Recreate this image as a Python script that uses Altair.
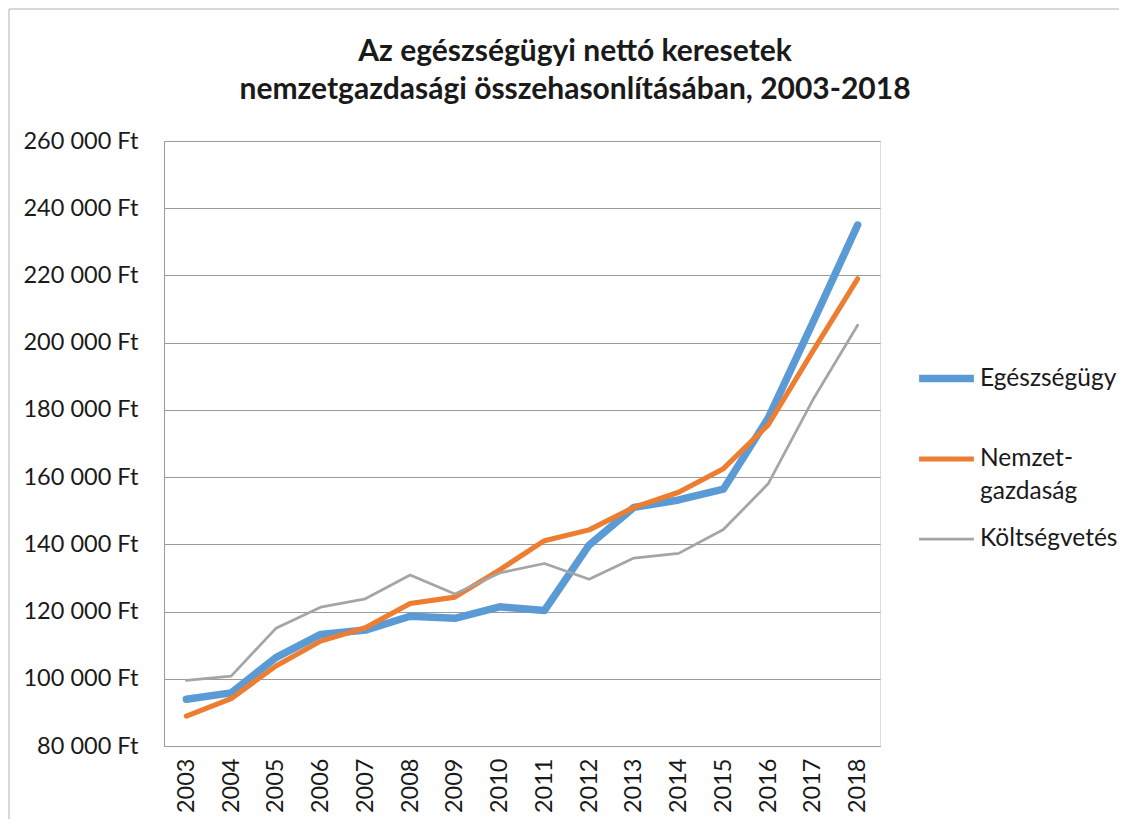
import altair as alt
import pandas as pd

years = [str(y) for y in range(2003, 2019)]
series_names = ["Egészségügy", "Nemzetgazdaság", "Költségvetés"]
egeszsegugy = [93900, 95800, 106300, 113200, 114500, 118600, 118000, 121400,
               120300, 139800, 151000, 153200, 156400, 177500, 206000, 235000]
nemzetgazdasag = [88900, 94100, 103800, 111200, 115200, 122400, 124300, 132400,
                  141100, 144300, 151000, 155500, 162500, 175500, 197500, 219000]
koltsegvetes = [99500, 100800, 115000, 121300, 123800, 130900, 125200, 131500,
                134300, 129600, 135900, 137300, 144400, 158000, 183000, 205200]
title_lines = ["Az egészségügyi nettó keresetek",
               "nemzetgazdasági összehasonlításában,  2003-2018"]

rows = []
for name, vals in zip(series_names, [egeszsegugy, nemzetgazdasag, koltsegvetes]):
    for y, v in zip(years, vals):
        rows.append({"year": y, "value": v, "series": name})
df = pd.DataFrame(rows)

FONT = "Lato"
TXT = "#1a1a1a"
GRID = "#9a9a9a"

color_scale = alt.Scale(domain=series_names, range=["#5B9BD5", "#ED7D31", "#A5A5A5"])
width_scale = alt.Scale(domain=series_names, range=[7.5, 2.75, 2.75])

legend = alt.Legend(
    title=None, orient="none", legendX=751, legendY=206,
    symbolType="stroke", symbolSize=3000, labelFont=FONT, labelFontSize=24.5,
    labelColor=TXT, labelOffset=2, rowPadding=6, labelLimit=300,
    labelExpr=("datum.label == 'Nemzetgazdaság' ? ['Nemzet-', 'gazdaság'] : "
               "(datum.label == 'Egészségügy' ? ['Egészségügy', ''] : datum.label)"),
)

lines = alt.Chart(df).mark_line(strokeCap="round", strokeJoin="round").encode(
    x=alt.X("year:O", sort=years, scale=alt.Scale(type="point", padding=0.5),
            axis=alt.Axis(title=None, labelAngle=270, labelFont=FONT, labelFontSize=23.5,
                          labelColor=TXT, labelPadding=12, ticks=False,
                          domainColor=GRID, grid=False)),
    y=alt.Y("value:Q", scale=alt.Scale(domain=[80000, 260000], nice=False, zero=False),
            axis=alt.Axis(title=None, values=list(range(80000, 260001, 20000)),
                          labelExpr="replace(format(datum.value, ',d'), ',', ' ') + ' Ft'",
                          labelFont=FONT, labelFontSize=23.5, labelColor=TXT,
                          labelPadding=26, ticks=False, domainColor=GRID,
                          gridColor=GRID, gridWidth=1)),
    color=alt.Color("series:N", scale=color_scale, sort=series_names, legend=legend),
    strokeWidth=alt.StrokeWidth("series:N", scale=width_scale, sort=series_names, legend=legend),
    detail="series:N",
)

frame_data = alt.Data(values=[{"k": 0}])
top_rule = alt.Chart(frame_data).mark_rule(color="#b0b0b0", strokeWidth=1).encode(
    x=alt.value(-155), x2=alt.value(955), y=alt.value(-132))
left_rule = alt.Chart(frame_data).mark_rule(color="#b0b0b0", strokeWidth=1).encode(
    x=alt.value(-155), y=alt.value(-132), y2=alt.value(678))

chart = alt.layer(lines, top_rule, left_rule).properties(
    width=716, height=605,
    padding={"left": 0, "top": 0, "right": 0, "bottom": 0},
    title=alt.TitleParams(text=title_lines, font=FONT, fontSize=30, fontWeight="bold",
                          color=TXT, anchor="middle", lineHeight=38, offset=-96, dx=53),
).configure_view(stroke=None).configure(
    background="white", style={"guide-label": {"lineHeight": 33}}
)

chart.save("out.html", embed_options={"renderer": "svg", "actions": False})
